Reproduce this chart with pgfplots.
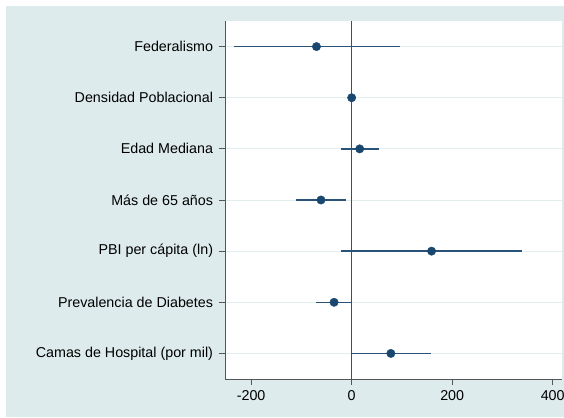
\documentclass[border=0pt]{standalone}
\usepackage{pgfplots}
\pgfplotsset{compat=1.18}
\usepackage{pgfplotstable}
\usepackage{fontspec}
\setmainfont{Liberation Sans}
\definecolor{bgc}{RGB}{222,235,236}
\definecolor{gridc}{RGB}{226,237,238}
\definecolor{navyc}{RGB}{26,71,111}
\definecolor{cilc}{RGB}{40,82,120}
\definecolor{axc}{RGB}{85,85,85}
\pgfplotstableread{
y est lo hi
1 -70 -234 97
2 0 -2 2
3 16 -21 54
4 -61 -110 -11
5 159 -21 338
6 -35 -71 0
7 78 0 158
}\coef
\pgfplotstableread{
x y
0 0.5
0 7.5
}\zeroline
\begin{document}
\fontsize{14.3}{17}\selectfont
\begin{tikzpicture}[x=1pt,y=1pt]
\useasboundingbox (0,0) rectangle (564,417);
\fill[white] (0,0) rectangle (564,417);
\fill[bgc] (6,0) rectangle (564,411);
\begin{axis}[
  at={(225pt,38pt)}, anchor=south west,
  scale only axis, width=337pt, height=358pt,
  xmin=-252, xmax=418.5, ymin=0.5, ymax=7.5,
  y dir=reverse,
  axis background/.style={fill=white},
  axis x line*=bottom, axis y line*=left,
  axis line style={axc, line width=0.8pt},
  every tick/.style={axc, line width=0.8pt},
  tick align=outside,
  major tick length=6pt,
  xtick={-200,0,200,400},
  xticklabels={-200,0,200,400},
  ytick={1,2,3,4,5,6,7},
  yticklabels={Federalismo,Densidad Poblacional,Edad Mediana,M\'as de 65 a\~nos,PBI per c\'apita (ln),Prevalencia de Diabetes,Camas de Hospital (por mil)},
  ymajorgrids,
  major grid style={gridc, line width=0.8pt},
  xticklabel style={font=\fontsize{14.3}{17}\selectfont, yshift=-1pt},
  yticklabel style={font=\fontsize{14.3}{17}\selectfont, xshift=-1pt},
  clip=false,
]
\addplot[red, line width=1.5pt, no marks, forget plot] table[x=x,y=y] {\zeroline};
\addplot[only marks, mark=*, mark size=4.2pt, color=navyc, mark options={fill=navyc, draw=navyc},
  error bars/.cd, x dir=both, x explicit, error mark=none,
  error bar style={draw=cilc, line width=1.3pt}]
  table[x=est, y=y, x error plus expr=\thisrow{hi}-\thisrow{est}, x error minus expr=\thisrow{est}-\thisrow{lo}] {\coef};
\end{axis}
\end{tikzpicture}
\end{document}
